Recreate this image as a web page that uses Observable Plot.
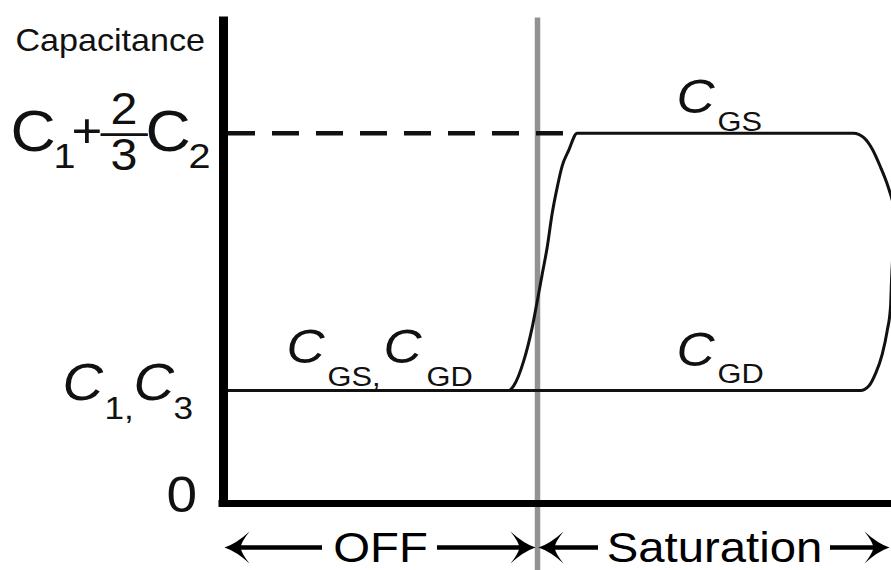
<!DOCTYPE html>
<html>
<head>
<meta charset="utf-8">
<script src="https://cdn.jsdelivr.net/npm/d3@7"></script>
<script src="https://cdn.jsdelivr.net/npm/@observablehq/plot@0.6"></script>
<style>
  html, body { margin: 0; padding: 0; background: #fff; overflow: hidden; }
</style>
</head>
<body>
<div id="chart"></div>
<script>
// ---------------- DATA ----------------
// x: gate voltage (arbitrary units), y: capacitance (arbitrary units, C1 level = 1)
const xMax = 6.68;
const yMax = 4.34;
const levelLow = 1.0;     // C1, C3
const levelHigh = 3.28;   // C1 + 2/3 C2
const vBoundary = 3.14;   // OFF | Saturation boundary
const dashStart = 0.05;
const dashEnd = 3.40;

// C_GS curve
const cgsX = [0, 2.82, 2.853, 2.90, 3.003, 3.087, 3.137, 3.187, 3.237, 3.287, 3.337, 3.387, 3.453, 3.537, 6.30, 6.403, 6.487, 6.57, 6.637, 6.68, 6.75];
const cgsY = [1, 1, 1.0, 1.04, 1.265, 1.56, 1.79, 2.03, 2.27, 2.57, 2.80, 2.99, 3.13, 3.28, 3.28, 3.24, 3.14, 2.98, 2.83, 2.71, 2.50];
// C_GD curve
const cgdX = [0, 6.37, 6.453, 6.52, 6.587, 6.637, 6.67, 6.68, 6.70];
const cgdY = [1, 1, 1.04, 1.15, 1.32, 1.53, 1.74, 1.97, 2.30];

// regions along x
const regionNames = ["OFF", "Saturation"];
const regionStart = [0, vBoundary];
const regionEnd = [vBoundary, xMax];
const arrowRowY = -0.39;

// label texts
const axisTitle = "Capacitance";
const zeroLabel = "0";
const highLabel = ["C", "1", "+", "\u2014", "2", "3", "C", "2"]; // C1 + (2/3) C2
const lowLabel = ["C", "1,", "C", "3"];
const offLabel = ["C", "GS,", "C", "GD"];
const cgsLabel = ["C", "GS"];
const cgdLabel = ["C", "GD"];

// ---------------- STYLE / TYPESETTING ----------------
const SX = 1.1; // horizontal stretch of the lettering
const FONT = "'Liberation Sans', Arial, Helvetica, sans-serif";
const INK = "#111";
const arrowGap = [[58, 57], [116, 116]]; // px kept clear around each region name (left, right)
// [dx px, baseline dy px, font size, italic]
const highSpec = [[-213, 18, 57, 0], [-170, 35, 36, 0], [-152, 14, 48, 0], [-123, 12, 43, 0],
                  [-113, -9, 44, 0], [-113, 37, 44, 0], [-78, 18, 57, 0], [-35, 35, 36, 0]];
const lowSpec = [[-161, 9, 51, 1], [-119, 28, 32, 0], [-90, 9, 51, 1], [-50, 28, 32, 0]];
const offSpec = [[-94, -28, 48, 1], [-53, -5, 28, 0], [3, -28, 48, 1], [46, -5, 28, 0]];
const cgsSpec = [[-38, -20, 48, 1], [3, -2, 28, 0]];
const cgdSpec = [[-38, -25, 48, 1], [3, -8, 28, 0]];

// ---------------- TABLES ----------------
const cgs = cgsX.map((x, i) => ({x, y: cgsY[i]}));
const cgd = cgdX.map((x, i) => ({x, y: cgdY[i]}));
const regions = regionNames.map((name, i) => ({name, x1: regionStart[i], x2: regionEnd[i], xm: (regionStart[i] + regionEnd[i]) / 2}));

// arrowhead symbols (tip at origin)
const headRight = {draw(ctx) {
  ctx.moveTo(0, 0);
  ctx.quadraticCurveTo(-12, -4, -25, -16);
  ctx.quadraticCurveTo(-17, -6, -16, 0);
  ctx.quadraticCurveTo(-17, 6, -25, 16);
  ctx.quadraticCurveTo(-12, 4, 0, 0);
  ctx.closePath();
}};
const headLeft = {draw(ctx) {
  ctx.moveTo(0, 0);
  ctx.quadraticCurveTo(12, -4, 25, -16);
  ctx.quadraticCurveTo(17, -6, 16, 0);
  ctx.quadraticCurveTo(17, 6, 25, 16);
  ctx.quadraticCurveTo(12, 4, 0, 0);
  ctx.closePath();
}};

function richText(x, y, tokens) {
  return Plot.text([0], {x: () => x, y: () => y, text: () => tokens.join(""),
    textAnchor: "start", lineAnchor: "bottom", fill: INK});
}

const arrowLines = regions.flatMap((r, i) => [
  Plot.ruleY([r], {x1: "x1", x2: "xm", y: () => arrowRowY, stroke: "black", strokeWidth: 4.5, insetLeft: 12, insetRight: arrowGap[i][0]}),
  Plot.ruleY([r], {x1: "xm", x2: "x2", y: () => arrowRowY, stroke: "black", strokeWidth: 4.5, insetLeft: arrowGap[i][1], insetRight: 12})
]);

const chart = Plot.plot({
  width: 891,
  height: 570,
  marginLeft: 223,
  marginRight: 0,
  marginTop: 13,
  marginBottom: 67,
  x: {domain: [0, xMax], axis: null},
  y: {domain: [0, yMax], axis: null},
  style: {fontFamily: FONT, background: "white", color: INK},
  marks: [
    // OFF / Saturation boundary
    Plot.ruleX([vBoundary], {y1: 4.30, y2: -0.6, stroke: "#929292", strokeWidth: 5.5}),
    // C1 + 2/3 C2 reference level
    Plot.ruleY([levelHigh], {x1: dashStart, x2: dashEnd, stroke: INK, strokeWidth: 4.5, strokeDasharray: "27,17"}),
    // curves
    Plot.line(cgd, {x: "x", y: "y", stroke: INK, strokeWidth: 3, curve: "monotone-x", clip: true}),
    Plot.line(cgs, {x: "x", y: "y", stroke: INK, strokeWidth: 3, curve: "monotone-x", clip: true}),
    // axes
    Plot.ruleX([0], {y1: 0, y2: yMax, stroke: "black", strokeWidth: 9, insetBottom: -3.5}),
    Plot.ruleY([0], {x1: 0, x2: xMax, stroke: "black", strokeWidth: 7, insetLeft: -4.5}),
    // region arrows
    ...arrowLines,
    Plot.dot(regions, {x: "x1", y: () => arrowRowY, symbol: headLeft, fill: "black", stroke: "none", dx: 1}),
    Plot.dot(regions, {x: "x2", y: () => arrowRowY, symbol: headRight, fill: "black", stroke: "none", dx: -2}),
    Plot.text(regions, {x: "xm", y: () => arrowRowY, text: "name", fontSize: 43,
      lineAnchor: "bottom", dy: 14, textAnchor: "middle", fill: "black"}),
    // axis title and tick-like labels
    Plot.text([axisTitle], {x: () => 0, y: () => yMax, text: d => d, textAnchor: "start", lineAnchor: "bottom",
      dx: -208, dy: 37, fontSize: 31, fill: INK}),
    Plot.text([zeroLabel], {x: () => 0, y: () => 0, text: d => d, textAnchor: "start", lineAnchor: "bottom",
      dx: -57, dy: 8, fontSize: 50, fill: INK}),
    richText(0, levelHigh, highLabel),
    richText(0, levelLow, lowLabel),
    richText(vBoundary / 2, levelLow, offLabel),
    richText((vBoundary + xMax) / 2, levelHigh, cgsLabel),
    richText((vBoundary + xMax) / 2, levelLow, cgdLabel)
  ]
});

document.getElementById("chart").appendChild(chart);
const svgNode = chart.tagName.toLowerCase() === "svg" ? chart : chart.querySelector("svg");
const svg = d3.select(svgNode);

// horizontal stretch of lettering about each text's anchor
svg.selectAll("text").each(function () {
  let tr = this.getAttribute("transform");
  if (!tr) {
    const x = this.getAttribute("x") || 0, y = this.getAttribute("y") || 0;
    this.removeAttribute("x"); this.removeAttribute("y");
    tr = `translate(${x},${y})`;
  }
  this.setAttribute("transform", tr + ` scale(${SX},1)`);
});

function typeset(tokens, spec) {
  const content = tokens.join("");
  const t = svg.selectAll("text").filter(function () { return this.textContent === content; });
  t.text(null);
  tokens.forEach((tok, i) => {
    const [ox, oy, fs, it] = spec[i];
    t.append("tspan").attr("x", ox / SX).attr("y", oy).attr("font-size", fs)
      .attr("font-style", it ? "italic" : "normal").text(tok);
  });
}
typeset(highLabel, highSpec);
typeset(lowLabel, lowSpec);
typeset(offLabel, offSpec);
typeset(cgsLabel, cgsSpec);
typeset(cgdLabel, cgdSpec);
</script>
</body>
</html>
